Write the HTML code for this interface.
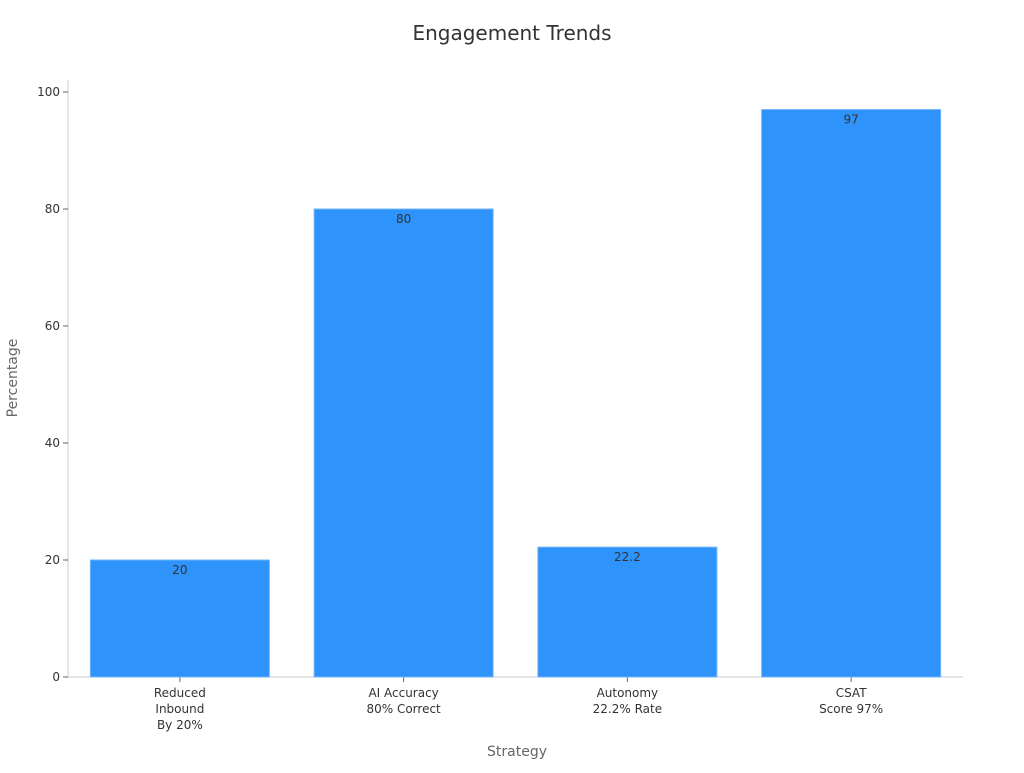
<!DOCTYPE html>
<html><head><meta charset="utf-8"><style>
body{margin:0;background:#fff;font-family:"Liberation Sans","DejaVu Sans",sans-serif;}
svg text{font-family:"DejaVu Sans","Liberation Sans",sans-serif;}
</style></head><body>
<svg id="chart" width="1024" height="768">
<text x="512" y="40" text-anchor="middle" font-size="20" fill="#333">Engagement Trends</text>
<text x="517" y="756" text-anchor="middle" font-size="14" fill="#666">Strategy</text>
<text transform="translate(17,378) rotate(-90)" text-anchor="middle" font-size="14" fill="#666">Percentage</text>
<g id="axes"></g><g id="bars"></g>
</svg>
<script>
const categories=[["Reduced","Inbound","By 20%"],["AI Accuracy","80% Correct"],["Autonomy","22.2% Rate"],["CSAT","Score 97%"]];
const values=[20,80,22.2,97];
const yTicks=[0,20,40,60,80,100];
const NS="http://www.w3.org/2000/svg";
const x0=68,x1=963,yB=677,yT=92;
const y=v=>yB-(v/100)*(yB-yT);
const band=(x1-x0)/categories.length;
const xs=i=>x0+band*i;
const axes=document.getElementById('axes'),bars=document.getElementById('bars');
function mk(t,a,p){const e=document.createElementNS(NS,t);for(const k in a)e.setAttribute(k,a[k]);p.appendChild(e);return e;}
let l=mk('line',{x1:x0,x2:x0,y1:80,y2:yB,stroke:'#ccc'},axes);


l=mk('line',{x1:x0,x2:x1,y1:yB,y2:yB,stroke:'#ccc'},axes);


yTicks.forEach(v=>{
 mk('line',{x1:x0-5,x2:x0,y1:y(v),y2:y(v),stroke:'#666'},axes);
 const t=mk('text',{x:x0-8,y:y(v)+4,'text-anchor':'end','font-size':12,fill:'#333'},axes);
 t.textContent=v;
 
 
});
values.forEach((v,i)=>{
 const bx=xs(i)+band*0.1,bw=band*0.8;
 const r=mk('rect',{x:bx,y:y(v),width:bw,height:yB-y(v),fill:'#2E93FA',stroke:'#6fb5fb','stroke-width':1},bars);
 
 
 const lb=mk('text',{x:bx+bw/2,y:y(v)+14,'text-anchor':'middle','font-size':12,fill:'#333'},bars);
 lb.textContent=v;
 
 
 const cx=xs(i)+band/2;
 mk('line',{x1:cx,x2:cx,y1:yB,y2:yB+5,stroke:'#666'},axes);
 categories[i].forEach((s,j)=>{
  const t=mk('text',{x:cx,y:yB+20+j*16,'text-anchor':'middle','font-size':12,fill:'#333'},axes);
  t.textContent=s;
  
  
 });
});
</script>
</body></html>
